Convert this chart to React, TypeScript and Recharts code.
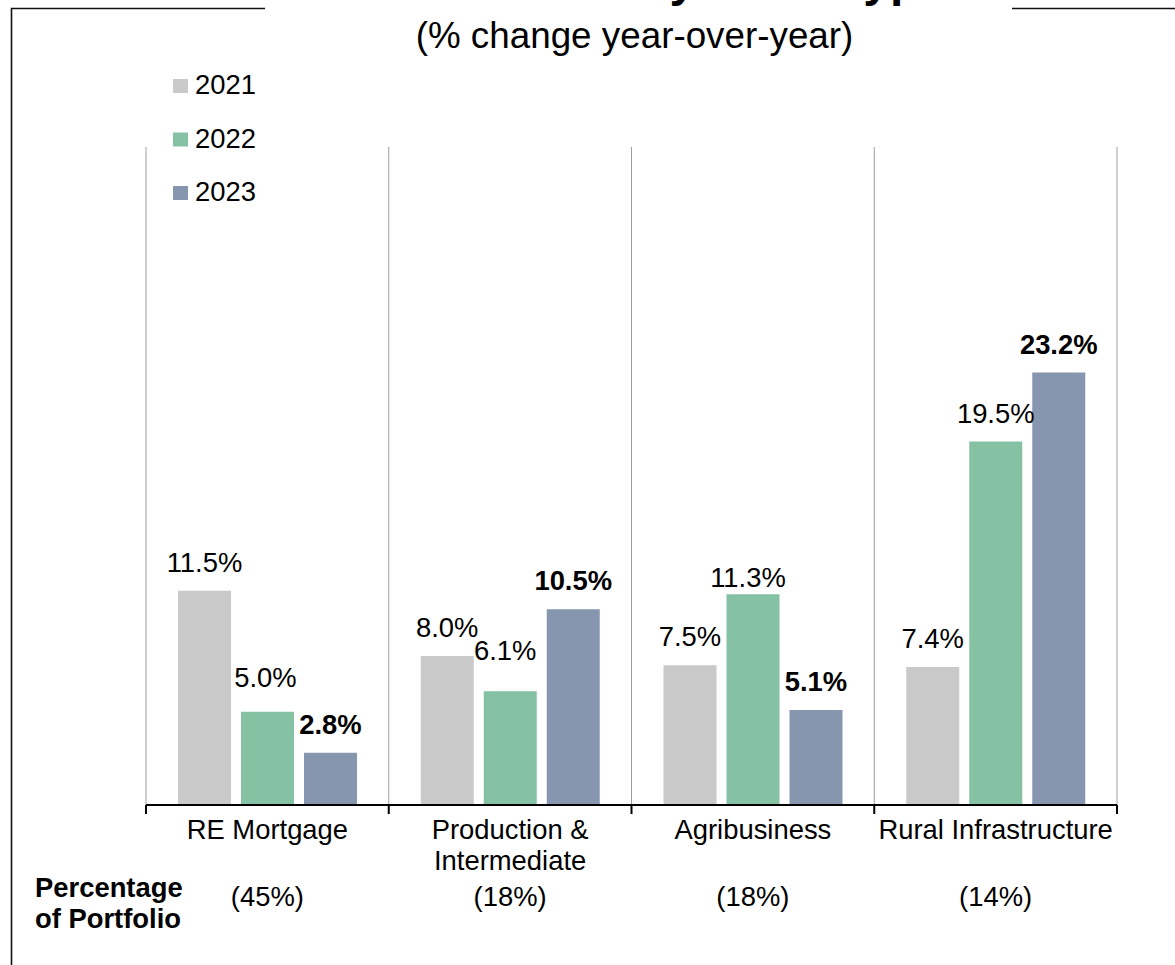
import React from 'react';
import { BarChart, Bar, XAxis, YAxis, CartesianGrid, LabelList } from 'recharts';

// ---- data ----
const categories = ['RE Mortgage', 'Production & Intermediate', 'Agribusiness', 'Rural Infrastructure'];
const categoryLines = [['RE Mortgage'], ['Production &', 'Intermediate'], ['Agribusiness'], ['Rural Infrastructure']];
const portfolioShares = ['(45%)', '(18%)', '(18%)', '(14%)'];
const seriesYears = ['2021', '2022', '2023'];
const growth2021 = [11.5, 8.0, 7.5, 7.4];
const growth2022 = [5.0, 6.1, 11.3, 19.5];
const growth2023 = [2.8, 10.5, 5.1, 23.2];

const titleText = 'Loan Growth by Loan Type';
const subtitleText = '(% change year-over-year)';
const portfolioHeading = ['Percentage', 'of Portfolio'];

// ---- layout / style ----
const W = 1175;
const H = 965;
const MARGIN = { top: 147, right: 58, bottom: 130, left: 146 };
const XAXIS_H = 30;
const PLOT_W = W - MARGIN.left - MARGIN.right;
const FONT = '"Liberation Sans", Arial, sans-serif';
const COLORS = ['#C9C9C9', '#85C1A3', '#8596AE'];
const LABEL_SIZE = 27.4;

const data = categories.map((c, i) => ({
  category: c,
  y2021: growth2021[i],
  y2022: growth2022[i],
  y2023: growth2023[i],
}));

// small label nudges (dx, dy) mimicking manual placement in the original
const labelNudge: Record<string, [number, number]> = {
  'y2022-0': [-2, -6],
  'y2022-1': [-5, -12],
  'y2022-2': [-5, 12],
};

const makeLabel = (key: string, bold: boolean) => (props: any) => {
  const { x, y, width, value, index } = props;
  const [dx, dy] = labelNudge[`${key}-${index}`] || [0, 0];
  return (
    <text
      x={Number(x) + Number(width) / 2 + dx}
      y={Number(y) - 19 + dy}
      textAnchor="middle"
      fontFamily={FONT}
      fontSize={LABEL_SIZE}
      fontWeight={bold ? 'bold' : 'normal'}
      fill="#000"
    >
      {`${Number(value).toFixed(1)}%`}
    </text>
  );
};

const CategoryTick = (props: any) => {
  const { x, y, payload } = props;
  const band = PLOT_W / categories.length;
  const i = categories.indexOf(payload.value);
  const lines = categoryLines[i] || [payload.value];
  return (
    <g>
      <line x1={x - band / 2} x2={x - band / 2} y1={y} y2={y + 9} stroke="#000" strokeWidth={2} />
      {i === categories.length - 1 && (
        <line x1={x + band / 2} x2={x + band / 2} y1={y} y2={y + 9} stroke="#000" strokeWidth={2} />
      )}
      <text x={x} y={y} textAnchor="middle" fontFamily={FONT} fontSize={LABEL_SIZE} fill="#000">
        {lines.map((l, k) => (
          <tspan key={k} x={x} dy={k === 0 ? 34 : 31}>
            {l}
          </tspan>
        ))}
      </text>
      <text x={x} y={y + 101} textAnchor="middle" fontFamily={FONT} fontSize={LABEL_SIZE} fill="#000">
        {portfolioShares[i]}
      </text>
    </g>
  );
};

const gridGenerator = (args: any) => {
  const off = args && args.offset;
  const left = off && typeof off.left === 'number' ? off.left : MARGIN.left;
  const width = off && typeof off.width === 'number' ? off.width : PLOT_W;
  return Array.from({ length: categories.length + 1 }, (_, i) => left + (i * width) / categories.length);
};

export default function App() {
  const keys = ['y2021', 'y2022', 'y2023'];
  return (
    <div
      style={{
        position: 'absolute',
        left: 0,
        top: 0,
        width: W,
        height: H,
        background: '#fff',
        overflow: 'hidden',
        fontFamily: FONT,
      }}
    >
      <div style={{ position: 'absolute', left: 0, top: 0 }}>
        <BarChart
          width={W}
          height={H}
          data={data}
          margin={MARGIN}
          barGap={10}
          barSize={53}
        >
          <CartesianGrid
            horizontal={false}
            vertical={true}
            stroke="#9E9E9E"
            strokeWidth={1}
            verticalCoordinatesGenerator={gridGenerator}
          />
          <XAxis
            dataKey="category"
            height={XAXIS_H}
            interval={0}
            tickLine={false}
            tickSize={0}
            tickMargin={0}
            axisLine={{ stroke: '#000', strokeWidth: 2 }}
            tick={CategoryTick}
          />
          <YAxis type="number" hide domain={[0, 35.3]} />
          {keys.map((k, i) => (
            <Bar key={k} dataKey={k} name={seriesYears[i]} fill={COLORS[i]} isAnimationActive={false}>
              <LabelList dataKey={k} content={makeLabel(k, i === 2)} />
            </Bar>
          ))}
        </BarChart>
      </div>
      <svg
        width={W}
        height={H}
        style={{ position: 'absolute', left: 0, top: 0, pointerEvents: 'none' }}
      >
        {/* frame */}
        <path d={`M 11.5 ${H} V 8.5 H ${W}`} fill="none" stroke="#111" strokeWidth={1.6} />
        {/* title box (covers frame line); the title itself runs off the top edge as in the original */}
        <rect x={265} y={0} width={747} height={22} fill="#fff" />
        <text x={638.5} y={-4} textAnchor="middle" fontFamily={FONT} fontSize={48} fontWeight="bold" fill="#000">
          {titleText}
        </text>
        <text x={634.5} y={48} textAnchor="middle" fontFamily={FONT} fontSize={36.8} fill="#000">
          {subtitleText}
        </text>
        {/* legend */}
        {seriesYears.map((yr, i) => (
          <g key={yr}>
            <rect x={173} y={79 + i * 53.5} width={15} height={14} fill={COLORS[i]} />
            <text x={195} y={94 + i * 53.5} fontFamily={FONT} fontSize={LABEL_SIZE} fill="#000">
              {yr}
            </text>
          </g>
        ))}
        {/* portfolio heading */}
        <text x={35} y={897} fontFamily={FONT} fontSize={LABEL_SIZE} fontWeight="bold" fill="#000">
          {portfolioHeading[0]}
        </text>
        <text x={35} y={928} fontFamily={FONT} fontSize={LABEL_SIZE} fontWeight="bold" fill="#000">
          {portfolioHeading[1]}
        </text>
      </svg>
    </div>
  );
}
